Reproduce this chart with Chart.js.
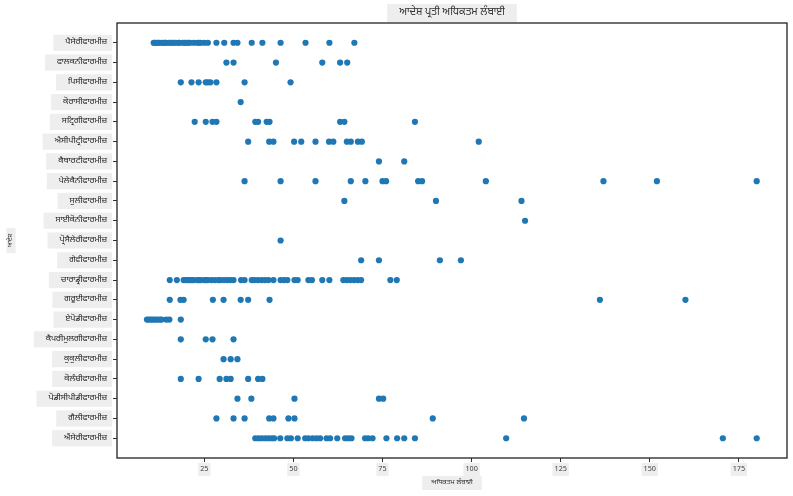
<!DOCTYPE html>
<html>
<head>
<meta charset="utf-8">
<script src="https://cdn.jsdelivr.net/npm/chart.js@4.4.1/dist/chart.umd.min.js"></script>
<style>
  html, body { margin: 0; padding: 0; background: #fff; }
  #wrap { width: 793px; height: 496px; }
</style>
</head>
<body>
<div id="wrap"><canvas id="orderChart"></canvas></div>
<script>
// order names, top row first
var orders = [
    'ਪੈਸੇਰੀਫਾਰਮੀਜ਼', 'ਫਾਲਕਨੀਫਾਰਮੀਜ਼', 'ਪਿਸੀਫਾਰਮੀਜ਼', 'ਕੋਰਾਸੀਫਾਰਮੀਜ਼',
    'ਸਟ੍ਰਿਗੀਫਾਰਮੀਜ਼', 'ਐਸੀਪੀਟ੍ਰੀਫਾਰਮੀਜ਼', 'ਕੈਥਾਰਟੀਫਾਰਮੀਜ਼', 'ਪੇਲੇਕੈਨੀਫਾਰਮੀਜ਼',
    'ਸੁਲੀਫਾਰਮੀਜ਼', 'ਸਾਈਕੋਨੀਫਾਰਮੀਜ਼', 'ਪ੍ਰੋਸੈਲੇਰੀਫਾਰਮੀਜ਼', 'ਗੇਵੀਫਾਰਮੀਜ਼',
    'ਚਾਰਾਡ੍ਰੀਫਾਰਮੀਜ਼', 'ਗਰੂਈਫਾਰਮੀਜ਼', 'ਏਪੋਡੀਫਾਰਮੀਜ਼', 'ਕੈਪਰੀਮੁਲਗੀਫਾਰਮੀਜ਼',
    'ਕੁਕੁਲੀਫਾਰਮੀਜ਼', 'ਕੋਲੰਬੀਫਾਰਮੀਜ਼', 'ਪੋਡੀਸੀਪੀਡੀਫਾਰਮੀਜ਼', 'ਗੈਲੀਫਾਰਮੀਜ਼',
    'ਐਂਸੇਰੀਫਾਰਮੀਜ਼'
];

// max length values per order
var passeriformes = [10.8, 11, 11.5, 12, 12.3, 13, 13.5, 14, 14.2, 15, 15.5, 16, 16.5, 17, 17.8,
    18, 19, 19.5, 20, 20.5, 21, 22, 23, 23.5, 24, 25, 26, 28.4, 30.6, 33.2, 34.3, 38.3, 41.3,
    46.4, 53.4, 60.1, 67.1];
var falconiformes = [31.2, 33.2, 45.1, 58.1, 63.1, 65.1];
var piciformes = [18.4, 21.4, 23.4, 25.4, 26, 26.7, 28.4, 36.3, 49.2];
var coraciiformes = [35.2];
var strigiformes = [22.3, 25.4, 27.3, 28.4, 39.3, 40.1, 42.5, 43.3, 63.1, 64.3, 84.1];
var accipitriformes = [37.3, 43.2, 44.4, 50.2, 52.2, 56.2, 60, 61.2, 65, 66.1, 68.1, 69.2, 102];
var cathartiformes = [74, 81.1];
var pelecaniformes = [36.3, 46.4, 56.2, 66.1, 70.2, 75, 76, 85, 86.1, 104, 137, 152, 180];
var suliformes = [64.3, 90, 114];
var ciconiiformes = [115];
var procellariiformes = [46.4];
var gaviiformes = [69, 74, 91.1, 97];
var charadriiformes = [15.3, 17.3, 19.2, 19.8, 20.5, 21, 21.5, 22, 23, 23.5, 24, 25, 25.5, 26,
    27, 28, 29, 29.5, 30.5, 31.5, 32.3, 33.2, 35.3, 36.3, 38.3, 39, 40, 41, 42, 43, 44.4, 46.4,
    47.4, 48.3, 50.3, 51.2, 54.2, 55.2, 58.1, 60.1, 64, 65, 66, 67, 68, 69, 77.2, 79];
var gruiformes = [15.3, 18.3, 19.2, 27.4, 30.4, 35.2, 37.3, 43.3, 136, 160];
var apodiformes = [8.9, 9.4, 10, 10.6, 11.2, 11.8, 12.5, 13, 14.3, 15.2, 18.4];
var caprimulgiformes = [18.4, 25.4, 27.3, 33.2];
var cuculiformes = [30.4, 32.4, 34.3];
var columbiformes = [18.4, 23.4, 29.3, 31.2, 32.4, 37.3, 40.1, 41.3];
var podicipediformes = [34.3, 38.2, 50.3, 74, 75.2];
var galliformes = [28.4, 33.2, 36.3, 43.2, 44.4, 48.6, 50.3, 89.1, 114.7];
var anseriformes = [39.3, 40.2, 41.1, 42.1, 43, 43.9, 44.6, 46.3, 48.3, 49.3, 51.2, 53.3, 54.2,
    55.4, 56.5, 57.5, 59.3, 60.3, 62.3, 64.5, 65.4, 66.3, 70.1, 71, 72.2, 76.1, 79.1, 81.1, 84.1,
    109.7, 170.5, 180];

var series = [passeriformes, falconiformes, piciformes, coraciiformes, strigiformes,
    accipitriformes, cathartiformes, pelecaniformes, suliformes, ciconiiformes,
    procellariiformes, gaviiformes, charadriiformes, gruiformes, apodiformes,
    caprimulgiformes, cuculiformes, columbiformes, podicipediformes, galliformes, anseriformes];

var xTicks = [25, 50, 75, 100, 125, 150, 175];

var chartTitle = 'ਆਦੇਸ਼ ਪ੍ਰਤੀ ਅਧਿਕਤਮ ਲੰਬਾਈ';
var xTitle = 'ਅਧਿਕਤਮ ਲੰਬਾਈ';
var yTitle = 'ਆਦੇਸ਼';

var fontFamily = "'Noto Sans Gurmukhi', 'Noto Sans', 'DejaVu Sans', sans-serif";

var points = [];
orders.forEach(function (name, i) {
    series[i].forEach(function (v) {
        points.push({ x: v, y: i });
    });
});

function drawBoxed(ctx, text, x, y, size, angle, padX, boxH) {
    ctx.save();
    ctx.translate(x, y);
    ctx.rotate(angle);
    ctx.font = size + 'px ' + fontFamily;
    var w = ctx.measureText(text).width;
    ctx.fillStyle = '#eeeeee';
    ctx.fillRect(-w / 2 - padX, -boxH / 2, w + 2 * padX, boxH);
    ctx.fillStyle = '#333';
    ctx.textAlign = 'center';
    ctx.textBaseline = 'middle';
    ctx.fillText(text, 0, 0);
    ctx.restore();
}

// frame on all four sides plus the boxed titles
var framePlugin = {
    id: 'framePlugin',
    afterDraw: function (chart) {
        var ctx = chart.ctx;
        var a = chart.chartArea;
        ctx.save();
        ctx.strokeStyle = '#222';
        ctx.lineWidth = 1.3;
        ctx.strokeRect(a.left, a.top, a.right - a.left, a.bottom - a.top);
        ctx.restore();
        var cx = (a.left + a.right) / 2;
        drawBoxed(ctx, chartTitle, cx, 13, 10.5, 0, 12, 18);
        drawBoxed(ctx, xTitle, cx, 483, 7, 0, 9, 14);
        drawBoxed(ctx, yTitle, 11, (a.top + a.bottom) / 2, 6, -Math.PI / 2, 6, 9);
    }
};

var ctx = document.getElementById('orderChart').getContext('2d');
var chart = new Chart(ctx, {
    type: 'scatter',
    data: {
        datasets: [{
            label: yTitle,
            data: points,
            backgroundColor: '#1f77b4',
            borderWidth: 0,
            pointRadius: 3.1,
            pointHoverRadius: 3.1
        }]
    },
    options: {
        responsive: true,
        maintainAspectRatio: false,
        animation: false,
        events: [],
        layout: {
            padding: { top: 23, right: 6, left: 0, bottom: 0 }
        },
        scales: {
            x: {
                type: 'linear',
                min: 0.5,
                max: 188.5,
                afterBuildTicks: function (scale) {
                    scale.ticks = xTicks.map(function (v) { return { value: v }; });
                },
                afterFit: function (scale) {
                    scale.height = 38;
                },
                grid: {
                    display: true,
                    drawOnChartArea: false,
                    drawTicks: true,
                    tickLength: 4,
                    color: '#333'
                },
                border: { display: false },
                ticks: {
                    font: { family: fontFamily, size: 7.5 },
                    color: '#444',
                    padding: 3,
                    maxRotation: 0,
                    showLabelBackdrop: true,
                    backdropColor: '#eeeeee',
                    backdropPadding: { top: 2, bottom: 2, left: 2, right: 2 }
                }
            },
            y: {
                type: 'linear',
                min: -1,
                max: 21,
                reverse: true,
                afterBuildTicks: function (scale) {
                    scale.ticks = orders.map(function (n, i) { return { value: i }; });
                },
                afterFit: function (scale) {
                    scale.width = 117;
                },
                grid: {
                    display: true,
                    drawOnChartArea: false,
                    drawTicks: true,
                    tickLength: 4,
                    color: '#333'
                },
                border: { display: false },
                ticks: {
                    autoSkip: false,
                    font: { family: fontFamily, size: 8.5 },
                    color: '#222',
                    padding: 6,
                    callback: function (value) {
                        return orders[value] || '';
                    },
                    showLabelBackdrop: true,
                    backdropColor: '#eeeeee',
                    backdropPadding: { top: 3, bottom: 3, left: 12, right: 5 }
                }
            }
        },
        plugins: {
            legend: { display: false },
            title: { display: false },
            tooltip: { enabled: false }
        }
    },
    plugins: [framePlugin]
});
</script>
</body>
</html>
